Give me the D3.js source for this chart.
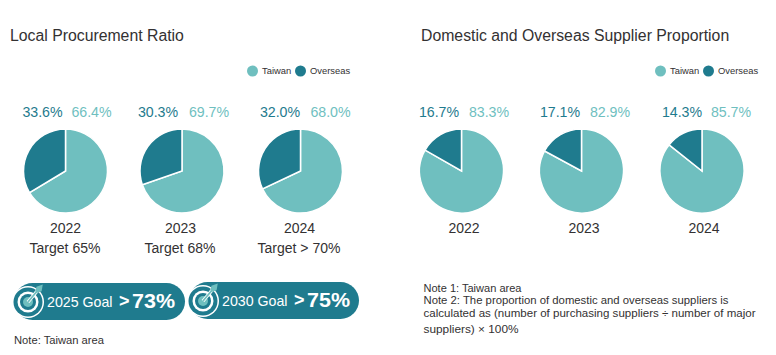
<!DOCTYPE html>
<html>
<head>
<meta charset="utf-8">
<script src="https://cdn.jsdelivr.net/npm/d3@7"></script>
<style>
  html, body { margin: 0; padding: 0; background: #fff; }
  svg { display: block; }
  text { font-family: "Liberation Sans", Arial, sans-serif; }
</style>
</head>
<body>
<svg id="chart"></svg>
<script>
const svgWidth = 776;
const svgHeight = 355;

// chart data
const categories = ["Taiwan", "Overseas"];
const years = ["2022", "2023", "2024"];
const targets = ["Target 65%", "Target 68%", "Target > 70%"];
const procurementTaiwan = [66.4, 69.7, 68.0];
const procurementOverseas = [33.6, 30.3, 32.0];
const supplierTaiwan = [83.3, 82.9, 85.7];
const supplierOverseas = [16.7, 17.1, 14.3];
const goalLabels = ["2025 Goal", "2030 Goal"];
const goalValues = ["73%", "75%"];
const notesLeft = ["Note: Taiwan area"];
const notesRight = [
    "Note 1: Taiwan area",
    "Note 2: The proportion of domestic and overseas suppliers is",
    "calculated as (number of purchasing suppliers ÷ number of major",
    "suppliers) × 100%"
];

const colorScale = d3.scaleOrdinal()
    .domain(categories)
    .range(["#6fbfbf", "#1f7b8e"]);
const darkText = "#333132";

const svg = d3.select("#chart")
    .attr("width", svgWidth)
    .attr("height", svgHeight);

const radius = 42;
const pieY = 171;
const arc = d3.arc().innerRadius(0).outerRadius(radius);
const pie = d3.pie().sort(null).value(d => d.value);

function drawPies(centers, taiwan, overseas, labelOffsets, yearOffset) {
    centers.forEach((cx, i) => {
        const rows = [
            { name: "Taiwan", value: taiwan[i] },
            { name: "Overseas", value: overseas[i] }
        ];
        const g = svg.append("g").attr("transform", `translate(${cx}, ${pieY})`);

        g.selectAll("path")
            .data(pie(rows))
            .enter().append("path")
            .attr("d", arc)
            .attr("fill", d => colorScale(d.data.name))
            .attr("stroke", "white")
            .attr("stroke-width", 1.5);

        g.append("text")
            .attr("x", labelOffsets[i][0])
            .attr("y", -54)
            .attr("text-anchor", "middle")
            .attr("font-size", 14.2)
            .attr("fill", colorScale("Overseas"))
            .text(overseas[i].toFixed(1) + "%");

        g.append("text")
            .attr("x", labelOffsets[i][1])
            .attr("y", -54)
            .attr("text-anchor", "middle")
            .attr("font-size", 14.2)
            .attr("fill", colorScale("Taiwan"))
            .text(taiwan[i].toFixed(1) + "%");

        g.append("text")
            .attr("x", yearOffset[i])
            .attr("y", 62)
            .attr("text-anchor", "middle")
            .attr("font-size", 14)
            .attr("fill", darkText)
            .text(years[i]);
    });
}

function drawLegend(x) {
    const legend = svg.append("g").attr("transform", `translate(${x}, 71)`);
    const itemX = [0, 48];
    categories.forEach((name, i) => {
        legend.append("circle")
            .attr("cx", itemX[i])
            .attr("r", 5.5)
            .attr("fill", colorScale(name));
        legend.append("text")
            .attr("x", itemX[i] + 9.5)
            .attr("y", 3.3)
            .attr("font-size", 9.4)
            .attr("fill", darkText)
            .text(name);
    });
}

function drawGoal(iconX, iconY, right, i) {
    const dark = colorScale("Overseas");
    const light = colorScale("Taiwan");
    const h = 37;
    const g = svg.append("g").attr("transform", `translate(${iconX}, ${iconY})`);

    g.append("rect")
        .attr("x", -14)
        .attr("y", -19)
        .attr("width", right - iconX + 14)
        .attr("height", h)
        .attr("rx", h / 2)
        .attr("fill", dark);

    // target icon
    const rings = [
        [16, "white"],
        [14.5, dark],
        [10.5, "white"],
        [8, dark],
        [5, light]
    ];
    g.selectAll("circle")
        .data(rings)
        .enter().append("circle")
        .attr("r", d => d[0])
        .attr("fill", d => d[1]);
    g.append("line")
        .attr("x2", 10).attr("y2", -12)
        .attr("stroke", "white")
        .attr("stroke-width", 3.5);
    g.append("line")
        .attr("x2", 10).attr("y2", -12)
        .attr("stroke", light)
        .attr("stroke-width", 1.8);
    g.append("path")
        .attr("transform", "translate(11, -13) rotate(40)")
        .attr("d", d3.symbol(d3.symbolDiamond, 40)())
        .attr("fill", light);

    g.append("text")
        .attr("x", 19)
        .attr("y", 5)
        .attr("font-size", 14.2)
        .attr("fill", "white")
        .text(goalLabels[i]);
    g.append("text")
        .attr("x", 91)
        .attr("y", 5)
        .attr("font-size", 18)
        .attr("font-weight", "bold")
        .attr("fill", "white")
        .text(">");
    g.append("text")
        .attr("x", 104)
        .attr("y", 5.5)
        .attr("font-size", 19.5)
        .attr("font-weight", "bold")
        .attr("textLength", 43)
        .attr("lengthAdjust", "spacingAndGlyphs")
        .attr("fill", "white")
        .text(goalValues[i]);
}

// titles
svg.append("text")
    .attr("x", 10).attr("y", 41)
    .attr("font-size", 15.8)
    .attr("fill", darkText)
    .text("Local Procurement Ratio");
svg.append("text")
    .attr("x", 421).attr("y", 41)
    .attr("font-size", 15.8)
    .attr("fill", darkText)
    .text("Domestic and Overseas Supplier Proportion");

drawLegend(252.5);
drawLegend(660.5);

const leftCenters = [65.5, 182, 300.5];
const rightCenters = [461.5, 581.5, 702];

drawPies(leftCenters, procurementTaiwan, procurementOverseas,
    [[-23, 26], [-24, 27], [-20.5, 30]], [0, -1.5, -1]);
drawPies(rightCenters, supplierTaiwan, supplierOverseas,
    [[-22.5, 27.5], [-21.5, 28.5], [-20, 29]], [2.5, 2.5, 2]);

// targets under the left pies
const targetX = [65, 180, 299];
targets.forEach((t, i) => {
    svg.append("text")
        .attr("x", targetX[i])
        .attr("y", 253)
        .attr("text-anchor", "middle")
        .attr("font-size", 14)
        .attr("fill", darkText)
        .text(t);
});

drawGoal(28, 302, 185, 0);
drawGoal(203, 301, 359, 1);

// notes
notesLeft.forEach(t => {
    svg.append("text")
        .attr("x", 14).attr("y", 344)
        .attr("font-size", 11.2)
        .attr("textLength", 90)
        .attr("lengthAdjust", "spacingAndGlyphs")
        .attr("fill", darkText)
        .text(t);
});
const noteY = [292, 304, 317, 333];
const noteWidth = [98, 305, 332, 95];
notesRight.forEach((t, i) => {
    svg.append("text")
        .attr("x", 423.5)
        .attr("y", noteY[i])
        .attr("font-size", 11.4)
        .attr("textLength", noteWidth[i])
        .attr("lengthAdjust", "spacingAndGlyphs")
        .attr("fill", darkText)
        .text(t);
});
</script>
</body>
</html>
